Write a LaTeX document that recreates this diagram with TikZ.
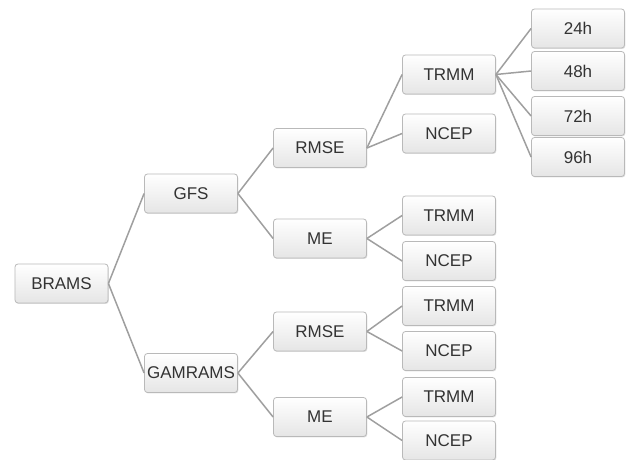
\documentclass[tikz,border=0pt]{standalone}
\usepackage{fontspec}
\setmainfont{Liberation Sans}
\usetikzlibrary{positioning,shadows}

\begin{document}
\begin{tikzpicture}[
    x=0.5pt,y=-0.5pt, % one unit = one pixel of the reference
    box/.style={draw=gray!55,rounded corners=1.5pt,top color=white,bottom color=gray!20,
        minimum width=46.5pt,minimum height=19.5pt,inner sep=0pt,
        font=\fontsize{8.5}{10}\selectfont,text=black!80,
        drop shadow={shadow xshift=0.4pt,shadow yshift=-0.5pt,opacity=0.25,fill=gray}},
    link/.style={draw=gray!75,line width=0.75pt}
]
\useasboundingbox (0,0) rectangle (629,460);

% Root
\node[box] (brams) at (61.5,283.5) {BRAMS};

% Models
\node[box] (gfs) at (191,193.5) {GFS};
\node[box] (gam) at (191,373) {GAMRAMS};

% Metrics
\node[box] (rmse1) at (320,148) {RMSE};
\node[box] (me1) at (320,238.5) {ME};
\node[box] (rmse2) at (320,331.5) {RMSE};
\node[box] (me2) at (320,417) {ME};

% References
\node[box] (trmm1) at (449,74.5) {TRMM};
\node[box] (ncep1) at (449,133.5) {NCEP};
\node[box] (trmm2) at (449,215.5) {TRMM};
\node[box] (ncep2) at (449,261) {NCEP};
\node[box] (trmm3) at (449,306) {TRMM};
\node[box] (ncep3) at (449,351) {NCEP};
\node[box] (trmm4) at (449,397) {TRMM};
\node[box] (ncep4) at (449,440.5) {NCEP};

% Lead times
\node[box] (h24) at (578,28.5) {24h};
\node[box] (h48) at (578,71) {48h};
\node[box] (h72) at (578,116) {72h};
\node[box] (h96) at (578,157) {96h};

% Branches
\foreach \a/\b in {brams/gfs,brams/gam,gfs/rmse1,gfs/me1,gam/rmse2,gam/me2} {
    \draw[link] (\a.east) -- (\b.west);
}
\foreach \m/\x in {rmse1/1,me1/2,rmse2/3,me2/4} {
    \draw[link] (\m.east) -- (trmm\x.west);
    \draw[link] (\m.east) -- (ncep\x.west);
}
\foreach \h in {24,48,72,96} {
    \draw[link] (trmm1.east) -- (h\h.west);
}

\end{tikzpicture}
\end{document}
